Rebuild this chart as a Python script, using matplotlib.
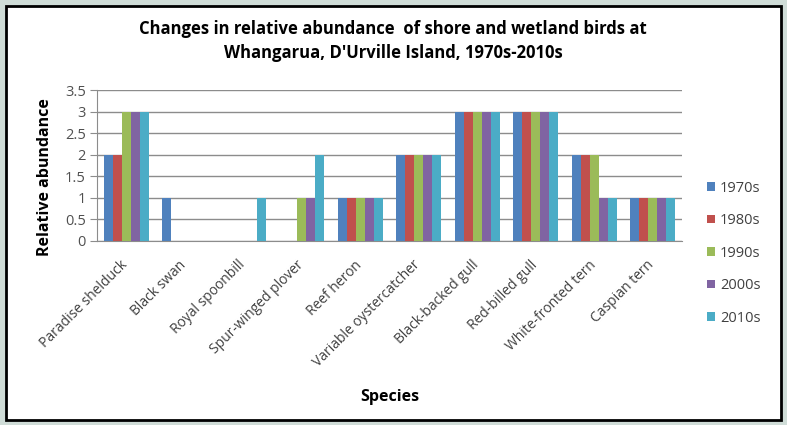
import numpy as np
import matplotlib.pyplot as plt
import matplotlib.transforms as mtransforms
from matplotlib.patches import Rectangle

species = ["Paradise shelduck", "Black swan", "Royal spoonbill", "Spur-winged plover",
           "Reef heron", "Variable oystercatcher", "Black-backed gull", "Red-billed gull",
           "White-fronted tern", "Caspian tern"]
decades = ["1970s", "1980s", "1990s", "2000s", "2010s"]
v1970 = [2, 1, 0, 0, 1, 2, 3, 3, 2, 1]
v1980 = [2, 0, 0, 0, 1, 2, 3, 3, 2, 1]
v1990 = [3, 0, 0, 1, 1, 2, 3, 3, 2, 1]
v2000 = [3, 0, 0, 1, 1, 2, 3, 3, 1, 1]
v2010 = [3, 0, 1, 2, 1, 2, 3, 3, 1, 1]
colors = ["#4F81BD", "#C0504D", "#9BBB59", "#8064A2", "#4BACC6"]

plt.rcParams['font.family'] = ['Open Sans', 'DejaVu Sans']

fig = plt.figure(figsize=(7.87, 4.25), dpi=100)
fig.patch.set_facecolor("#cfdcd7")
fig.patches.append(Rectangle((6 / 787, 5 / 425), 775 / 787, 414 / 425, transform=fig.transFigure,
                             facecolor="white", edgecolor="black", linewidth=2, zorder=-1))

ax = fig.add_axes([97 / 787, 1 - 241 / 425, 585 / 787, 151 / 425])
ax.set_facecolor("white")
x = np.arange(len(species))
w = 0.154
for i, (lab, vals) in enumerate(zip(decades, [v1970, v1980, v1990, v2000, v2010])):
    ax.bar(x + (i - 2) * w, vals, w, color=colors[i], label=lab, zorder=3)

ax.set_xlim(-0.5, len(species) - 0.5)
ax.set_ylim(0, 3.5)
ax.set_yticks(np.arange(0, 3.51, 0.5))
ax.set_yticklabels(["0", "0.5", "1", "1.5", "2", "2.5", "3", "3.5"], fontsize=10.5, color="#505050")
ax.yaxis.grid(True, color="#8c8c8c", linewidth=1, zorder=0)
ax.set_xticks(x)
ax.set_xticklabels(species, rotation=45, ha="right", rotation_mode="anchor", fontsize=10,
                   color="#404040")
ax.tick_params(axis="x", length=0, pad=12)
ax.tick_params(axis="y", length=5, pad=3, color="#8c8c8c")
# nudge the rotated labels a little to the left, as in the original
shift = mtransforms.ScaledTranslation(-6 / 100, 0, fig.dpi_scale_trans)
for lbl in ax.get_xticklabels():
    lbl.set_transform(lbl.get_transform() + shift)
for s in ["top", "right"]:
    ax.spines[s].set_visible(False)
ax.spines["left"].set_color("#8c8c8c")
ax.spines["bottom"].set_color("#8c8c8c")

fig.text(45 / 787, 1 - 177 / 425, "Relative abundance", rotation=90, fontsize=11.5, fontweight="bold",
         ha="center", va="center")
fig.text(390 / 787, 1 - 397 / 425, "Species", fontsize=11.5, fontweight="bold", ha="center", va="center")
fig.text(393 / 787, 1 - 41 / 425, "Changes in relative abundance  of shore and wetland birds at\nWhangarua, D'Urville Island, 1970s-2010s",
         fontsize=12, fontweight="bold", ha="center", va="center", linespacing=1.5)

leg = ax.legend(loc="center left", bbox_to_anchor=(1.02, -0.08), frameon=False, fontsize=10.5,
                handlelength=0.55, handleheight=0.55, labelspacing=1.2, handletextpad=0.35)
for t in leg.get_texts():
    t.set_color("#404040")

fig.savefig("out.png", dpi=100, facecolor=fig.get_facecolor())
